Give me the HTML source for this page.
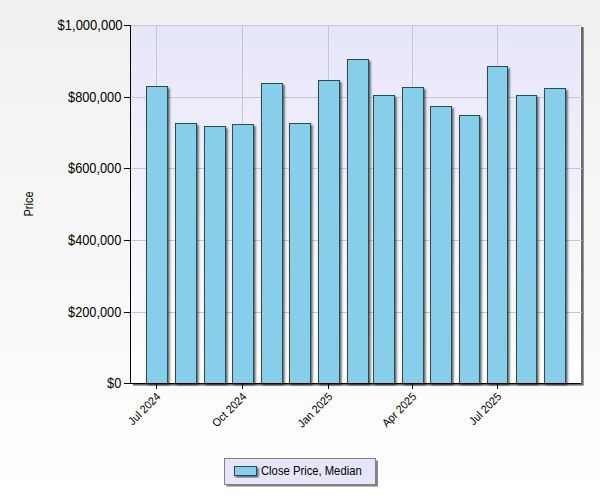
<!DOCTYPE html>
<html><head><meta charset="utf-8"><title>Chart</title>
<style>
html,body{margin:0;padding:0;background:#fff;}
body{width:600px;height:500px;overflow:hidden;font-family:"Liberation Sans",sans-serif;}
svg{display:block}
text{font-family:"Liberation Sans",sans-serif;fill:#000;}
</style></head><body>
<svg width="600" height="500" viewBox="0 0 600 500">
<defs>
<linearGradient id="bg" x1="0" y1="0" x2="0" y2="1"><stop offset="0" stop-color="#f0f0f0"/><stop offset="1" stop-color="#ffffff"/></linearGradient>
<linearGradient id="pa" x1="0" y1="0" x2="0" y2="1"><stop offset="0" stop-color="#e6e6fa"/><stop offset="1" stop-color="#ffffff"/></linearGradient>
<filter id="sh" x="-5%" y="-5%" width="110%" height="110%"><feGaussianBlur stdDeviation="0.55"/></filter>
<filter id="sb" x="-20%" y="-5%" width="140%" height="110%"><feGaussianBlur stdDeviation="0.8"/></filter>
</defs>
<rect x="0" y="0" width="600" height="500" fill="url(#bg)"/>

<rect x="133" y="27" width="450.7" height="358.6" fill="#000" fill-opacity="0.57" filter="url(#sh)"/>
<rect x="131" y="25" width="450" height="359" fill="url(#pa)"/>
<rect x="580" y="26" width="1" height="357" fill="#ffffff" fill-opacity="0.45" shape-rendering="crispEdges"/>
<g shape-rendering="crispEdges" fill="#c8c8c8">
<rect x="131" y="25" width="451" height="1"/>
<rect x="131" y="97" width="451" height="1"/>
<rect x="131" y="168" width="451" height="1"/>
<rect x="131" y="240" width="451" height="1"/>
<rect x="131" y="312" width="451" height="1"/>
<rect x="156" y="25" width="1" height="358"/>
<rect x="242" y="25" width="1" height="358"/>
<rect x="328" y="25" width="1" height="358"/>
<rect x="412" y="25" width="1" height="358"/>
<rect x="497" y="25" width="1" height="358"/>
</g>
<g fill="#000" fill-opacity="0.65" filter="url(#sb)">
<rect x="147.5" y="88.0" width="22" height="296.9"/>
<rect x="176.5" y="125.0" width="22" height="259.9"/>
<rect x="205.5" y="128.0" width="22" height="256.9"/>
<rect x="233.5" y="126.0" width="22" height="258.9"/>
<rect x="262.5" y="85.0" width="22" height="299.9"/>
<rect x="290.5" y="125.0" width="22" height="259.9"/>
<rect x="319.5" y="82.0" width="22" height="302.9"/>
<rect x="348.5" y="61.0" width="22" height="323.9"/>
<rect x="374.5" y="97.0" width="22" height="287.9"/>
<rect x="403.5" y="89.0" width="22" height="295.9"/>
<rect x="431.5" y="108.0" width="22" height="276.9"/>
<rect x="460.5" y="117.0" width="21" height="267.9"/>
<rect x="488.5" y="68.0" width="21" height="316.9"/>
<rect x="517.5" y="97.0" width="21" height="287.9"/>
<rect x="545.5" y="90.0" width="22" height="294.9"/>
</g>
<g shape-rendering="crispEdges" fill="#87ceeb" stroke="#2b4b4e" stroke-width="1">
<rect x="146.5" y="86.5" width="21" height="297"/>
<rect x="175.5" y="123.5" width="21" height="260"/>
<rect x="204.5" y="126.5" width="21" height="257"/>
<rect x="232.5" y="124.5" width="21" height="259"/>
<rect x="261.5" y="83.5" width="21" height="300"/>
<rect x="289.5" y="123.5" width="21" height="260"/>
<rect x="318.5" y="80.5" width="21" height="303"/>
<rect x="347.5" y="59.5" width="21" height="324"/>
<rect x="373.5" y="95.5" width="21" height="288"/>
<rect x="402.5" y="87.5" width="21" height="296"/>
<rect x="430.5" y="106.5" width="21" height="277"/>
<rect x="459.5" y="115.5" width="20" height="268"/>
<rect x="487.5" y="66.5" width="20" height="317"/>
<rect x="516.5" y="95.5" width="20" height="288"/>
<rect x="544.5" y="88.5" width="21" height="295"/>
</g>
<g shape-rendering="crispEdges" fill="#000">
<rect x="130" y="25" width="1" height="359"/>
<rect x="130" y="383" width="451" height="1"/>
<rect x="124" y="25" width="6" height="1"/>
<rect x="124" y="97" width="6" height="1"/>
<rect x="124" y="168" width="6" height="1"/>
<rect x="124" y="240" width="6" height="1"/>
<rect x="124" y="312" width="6" height="1"/>
<rect x="124" y="383" width="6" height="1"/>
<rect x="156" y="384" width="1" height="5"/>
<rect x="242" y="384" width="1" height="5"/>
<rect x="328" y="384" width="1" height="5"/>
<rect x="412" y="384" width="1" height="5"/>
<rect x="497" y="384" width="1" height="5"/>
</g>
<text font-size="14" text-anchor="end" transform="translate(122.6,30.0) scale(0.928,1)">$1,000,000</text>
<text font-size="14" text-anchor="end" transform="translate(121.3,102.0) scale(0.913,1)">$800,000</text>
<text font-size="14" text-anchor="end" transform="translate(121.3,173.0) scale(0.913,1)">$600,000</text>
<text font-size="14" text-anchor="end" transform="translate(121.3,245.0) scale(0.913,1)">$400,000</text>
<text font-size="14" text-anchor="end" transform="translate(121.3,317.0) scale(0.913,1)">$200,000</text>
<text font-size="14" text-anchor="end" transform="translate(121.3,388.0) scale(0.913,1)">$0</text>
<text font-size="11.3" text-anchor="end" transform="translate(161.2,397.3) rotate(-45) scale(0.94,1)">Jul 2024</text>
<text font-size="11.3" text-anchor="end" transform="translate(247.2,397.3) rotate(-45) scale(0.94,1)">Oct 2024</text>
<text font-size="11.3" text-anchor="end" transform="translate(333.2,397.3) rotate(-45) scale(0.94,1)">Jan 2025</text>
<text font-size="11.3" text-anchor="end" transform="translate(417.2,397.3) rotate(-45) scale(0.94,1)">Apr 2025</text>
<text font-size="11.3" text-anchor="end" transform="translate(502.2,397.3) rotate(-45) scale(0.94,1)">Jul 2025</text>
<text font-size="12.2" text-anchor="middle" transform="translate(33.2,204) rotate(-90) scale(0.9,1)">Price</text>
<rect x="226.5" y="460.5" width="151.4" height="26" fill="#000" fill-opacity="0.5" filter="url(#sh)"/>
<rect x="224.5" y="458.5" width="151" height="26" fill="#e6e6fa" stroke="#828282" stroke-width="1" shape-rendering="crispEdges"/>
<rect x="235.5" y="467.5" width="23" height="10" fill="#000" fill-opacity="0.65" filter="url(#sb)"/>
<rect x="234.5" y="466.5" width="22" height="9" fill="#87ceeb" stroke="#2b4b4e" stroke-width="1" shape-rendering="crispEdges"/>
<text font-size="12" transform="translate(261,474.6) scale(0.938,1)">Close Price, Median</text>
</svg></body></html>
